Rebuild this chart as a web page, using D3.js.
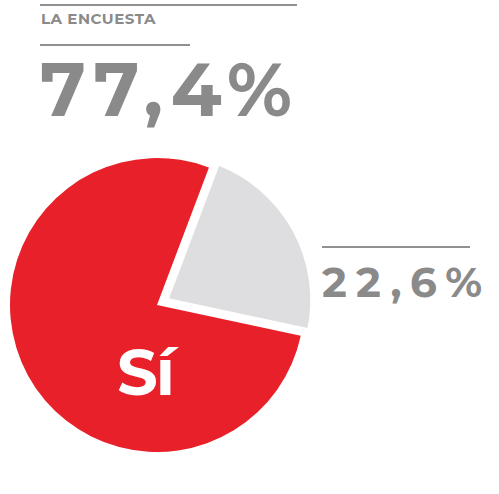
<!DOCTYPE html>
<html>
<head>
<meta charset="utf-8">
<script src="https://cdnjs.cloudflare.com/ajax/libs/d3/7.8.5/d3.min.js"></script>
<style>body{margin:0;background:#fff}</style>
</head>
<body>
<div id="chart"></div>
<script>
// survey data
var labels = ["Sí", "No"];
var values = [77.4, 22.6];
var valueText = ["77,4%", "22,6%"];
var colors = ["#e8202a", "#dedee0"];

var width = 499, height = 494;
var cx = 157, cy = 305, r = 147;

var svg = d3.select("#chart").append("svg")
    .attr("width", width).attr("height", height);

var font = "Montserrat, 'DejaVu Sans', Arial, sans-serif";

// header
svg.append("line").attr("x1", 40).attr("x2", 297).attr("y1", 5).attr("y2", 5)
    .attr("stroke", "#222").attr("stroke-width", 1);
svg.append("text").attr("x", 41).attr("y", 24)
    .attr("font-family", font).attr("font-weight", "bold").attr("font-size", 15)
    .attr("fill", "#8a8a8a").attr("letter-spacing", 0.5).text("LA ENCUESTA");
svg.append("line").attr("x1", 40).attr("x2", 190).attr("y1", 45).attr("y2", 45)
    .attr("stroke", "#222").attr("stroke-width", 1);
svg.append("text").attr("x", 40).attr("y", 116)
    .attr("font-family", font).attr("font-weight", "bold").attr("font-size", 74)
    .attr("fill", "#8a8a8a").attr("textLength", 252).text(valueText[0]);

// pie: grey slice starts ~20.7deg clockwise from top
var start = 20.7 * Math.PI / 180;
var pie = d3.pie().sort(null).value(function(d){ return d; })
    .startAngle(start + 2 * Math.PI * values[1] / 100 - 2 * Math.PI)
    .endAngle(start + 2 * Math.PI * values[1] / 100);
var arcs = pie(values);
// reorder so the red slice is drawn first
var arc = d3.arc().innerRadius(0).outerRadius(r);

var g = svg.append("g").attr("transform", "translate(" + cx + "," + cy + ")");
g.selectAll("path").data(arcs).enter().append("path")
    .attr("d", arc)
    .attr("fill", function(d, i){ return colors[i]; })
    .attr("stroke", function(d, i){ return i === 1 ? "#fff" : "none"; })
    .attr("stroke-width", 5)
    .attr("transform", function(d, i){
        if (i !== 1) return null;
        var a = (d.startAngle + d.endAngle) / 2, off = 10;
        return "translate(" + (Math.sin(a) * off) + "," + (-Math.cos(a) * off) + ")";
    });

g.append("text").attr("x", -12).attr("y", 90).attr("text-anchor", "middle")
    .attr("font-family", font).attr("font-weight", "bold").attr("font-size", 64)
    .attr("fill", "#fff").attr("letter-spacing", -2).text(labels[0]);

// right label
svg.append("line").attr("x1", 322).attr("x2", 470).attr("y1", 247).attr("y2", 247)
    .attr("stroke", "#222").attr("stroke-width", 1);
svg.append("text").attr("x", 322).attr("y", 297)
    .attr("font-family", font).attr("font-weight", "bold").attr("font-size", 42)
    .attr("fill", "#8a8a8a").attr("textLength", 160).text(valueText[1]);
</script>
</body>
</html>
